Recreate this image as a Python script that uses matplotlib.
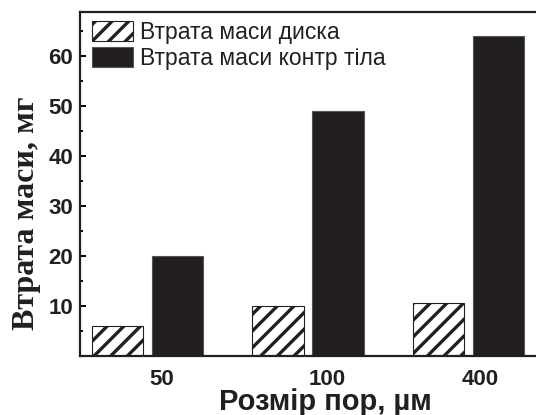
import matplotlib
matplotlib.use("Agg")
import matplotlib.pyplot as plt
import numpy as np
from matplotlib.ticker import MultipleLocator

# Pore size groups and mass loss values (mg)
pore_sizes = ["50", "100", "400"]
disk_loss = [6.0, 10.0, 10.6]
counter_loss = [20.0, 49.0, 64.0]
series_labels = ["Втрата маси диска", "Втрата маси контр тіла"]

plt.rcParams["hatch.linewidth"] = 2.4
plt.rcParams["hatch.color"] = "#231f20"

ink = "#231f20"
fig = plt.figure(figsize=(5.36, 4.15), dpi=100)
ax = fig.add_axes([80 / 536, 1 - 356 / 415, 1 - 80 / 536, (356 - 12) / 415])

x = np.arange(len(pore_sizes))
width = 0.318
offset = 0.187

ax.bar(x - offset, disk_loss, width, facecolor="white", edgecolor=ink,
       hatch="//", linewidth=0.8, label=series_labels[0])
ax.bar(x + offset, counter_loss, width, facecolor=ink, edgecolor="#555555",
       linewidth=0.8, label=series_labels[1])

ax.set_xlim(-0.42, 2.42)
ax.set_ylim(0, 68.8)

ax.set_xticks(x + np.array([0.09, 0.12, 0.075]))
ax.set_xticklabels(pore_sizes)
ax.tick_params(axis="x", length=0, pad=9)

ax.yaxis.set_major_locator(MultipleLocator(10))
ax.yaxis.set_minor_locator(MultipleLocator(5))
ax.set_yticks([10, 20, 30, 40, 50, 60])
ax.tick_params(axis="y", which="major", direction="in", length=4.5, width=1.4, pad=5)
ax.tick_params(axis="y", which="minor", direction="in", length=2.5, width=1.4)

for lab in ax.get_xticklabels() + ax.get_yticklabels():
    lab.set_fontfamily("Liberation Sans")
    lab.set_fontweight("bold")
    lab.set_fontsize(16)
    lab.set_color(ink)

for side in ["left", "bottom", "top"]:
    ax.spines[side].set_linewidth(1.6)
    ax.spines[side].set_color(ink)
ax.spines["right"].set_visible(False)

ax.set_ylabel("Втрата маси, мг", fontfamily="Liberation Serif",
              fontweight="bold", fontsize=23, color=ink)
ax.yaxis.set_label_coords(-0.086, 0.415)

ax.set_xlabel("Розмір пор, µм", fontfamily="Liberation Sans",
              fontweight="bold", fontsize=21, color=ink)
ax.xaxis.set_label_coords((325 - 80) / 456, -0.094)

leg = ax.legend(loc="upper left", bbox_to_anchor=(0.007, 1.0), frameon=False,
                prop={"family": "Liberation Sans", "size": 16.5},
                handlelength=1.78, handleheight=0.95, handletextpad=0.3,
                labelspacing=0.12, borderaxespad=0.2, borderpad=0.2)
for t in leg.get_texts():
    t.set_color(ink)

fig.savefig("out.png", dpi=100)
